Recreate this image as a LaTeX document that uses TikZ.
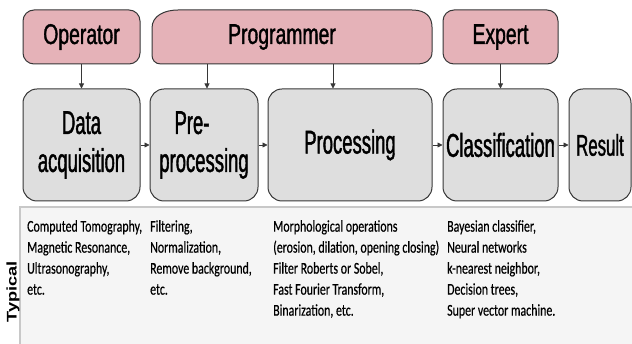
\documentclass[tikz,border=0pt]{standalone}
\usepackage{fontspec}
\usetikzlibrary{arrows.meta}
\setmainfont{Carlito}
\newfontfamily\notefont[FakeStretch=0.72, FakeBold=0.4]{Carlito}
\newfontfamily\labelfont[FakeStretch=0.56, FakeBold=1.2]{Liberation Sans}
\newfontfamily\rolefont[FakeStretch=0.68, FakeBold=1.2]{Liberation Sans}
\newfontfamily\sidefont[FakeStretch=1.3]{Liberation Sans}
\definecolor{rolepink}{RGB}{229,178,184}
\definecolor{stagegray}{RGB}{222,222,222}
\definecolor{edgegray}{RGB}{55,55,55}
\definecolor{panelgray}{RGB}{245,245,245}
\definecolor{panelline}{RGB}{200,200,200}

\begin{document}
\begin{tikzpicture}[x=1pt, y=-1pt,
  role/.style={draw=edgegray, fill=rolepink, line width=1pt, rounded corners=11pt,
    minimum height=54pt, inner sep=0pt, font=\rolefont\fontsize{28.5}{30}\selectfont},
  stage/.style={draw=edgegray, fill=stagegray, line width=1pt, rounded corners=14pt,
    minimum height=112pt, inner sep=0pt, align=center, font=\labelfont\fontsize{33}{38}\selectfont},
  flow/.style={draw=edgegray, line width=0.8pt, -{Triangle[length=5pt,width=5pt]}},
  note/.style={anchor=north west, inner sep=0pt, align=left, font=\notefont\fontsize{16.5}{21}\selectfont}]
  \useasboundingbox (0,0) rectangle (632,344);

  % panel with the typical methods
  \fill[panelgray] (20,207) rectangle (632,344);
  \draw[panelline, line width=1.5pt] (20,344) -- (20,207) -- (632,207);

  % who does what
  \node[role, minimum width=117pt] (operator) at (81.5,37) {Operator};
  \draw[edgegray, fill=rolepink, line width=1pt] (178,10) -- (412,10)
    .. controls (426,10) and (432,17) .. (432,27) -- (432,52)
    .. controls (432,60) and (426,64) .. (416,64) -- (161,64)
    .. controls (155,64) and (152,60) .. (152,55) -- (152,28)
    .. controls (152,16) and (164,10) .. (178,10) -- cycle;
  \node[font=\rolefont\fontsize{28.5}{30}\selectfont] (programmer) at (282,37) {Programmer};
  \node[role, minimum width=115pt] (expert) at (500.5,37) {Expert};
  \coordinate (prog-a) at (207,64);
  \coordinate (prog-b) at (333,64);

  % the stages
  \node[stage, minimum width=117pt] (acquisition) at (81.5,145) {Data\\acquisition};
  \node[stage, minimum width=108pt] (preprocessing) at (204,145) {Pre-\hspace*{24pt}\\processing};
  \node[stage, minimum width=164pt] (processing) at (350,145) {Processing};
  \node[stage, minimum width=115pt] (classification) at (500.5,145) {Classification};
  \node[stage, minimum width=62pt, font=\labelfont\fontsize{30}{36}\selectfont] (result) at (600,145) {Result};

  \draw[flow] (operator.south) -- (acquisition.north);
  \draw[flow] (prog-a) -- (prog-a |- preprocessing.north);
  \draw[flow] (prog-b) -- (prog-b |- processing.north);
  \draw[flow] (expert.south) -- (classification.north);

  \draw[flow] (acquisition) -- (preprocessing);
  \draw[flow] (preprocessing) -- (processing);
  \draw[flow] (processing) -- (classification);
  \draw[flow] (classification) -- (result);

  % typical methods
  \node[rotate=90, font=\sidefont\bfseries\fontsize{14}{16}\selectfont] (typical) at (13,292) {Typical};
  \node[note] (acq-list) at (27,220) {Computed Tomography,\\Magnetic Resonance,\\Ultrasonography,\\etc.};
  \node[note] (pre-list) at (150,220) {Filtering,\\Normalization,\\Remove background,\\etc.};
  \node[note] (proc-list) at (273,220) {Morphological operations\\(erosion, dilation, opening closing)\\Filter Roberts or Sobel,\\Fast Fourier Transform,\\Binarization, etc.};
  \node[note] (class-list) at (447,220) {Bayesian classifier,\\Neural networks\\k-nearest neighbor,\\Decision trees,\\Super vector machine.};
\end{tikzpicture}
\end{document}
